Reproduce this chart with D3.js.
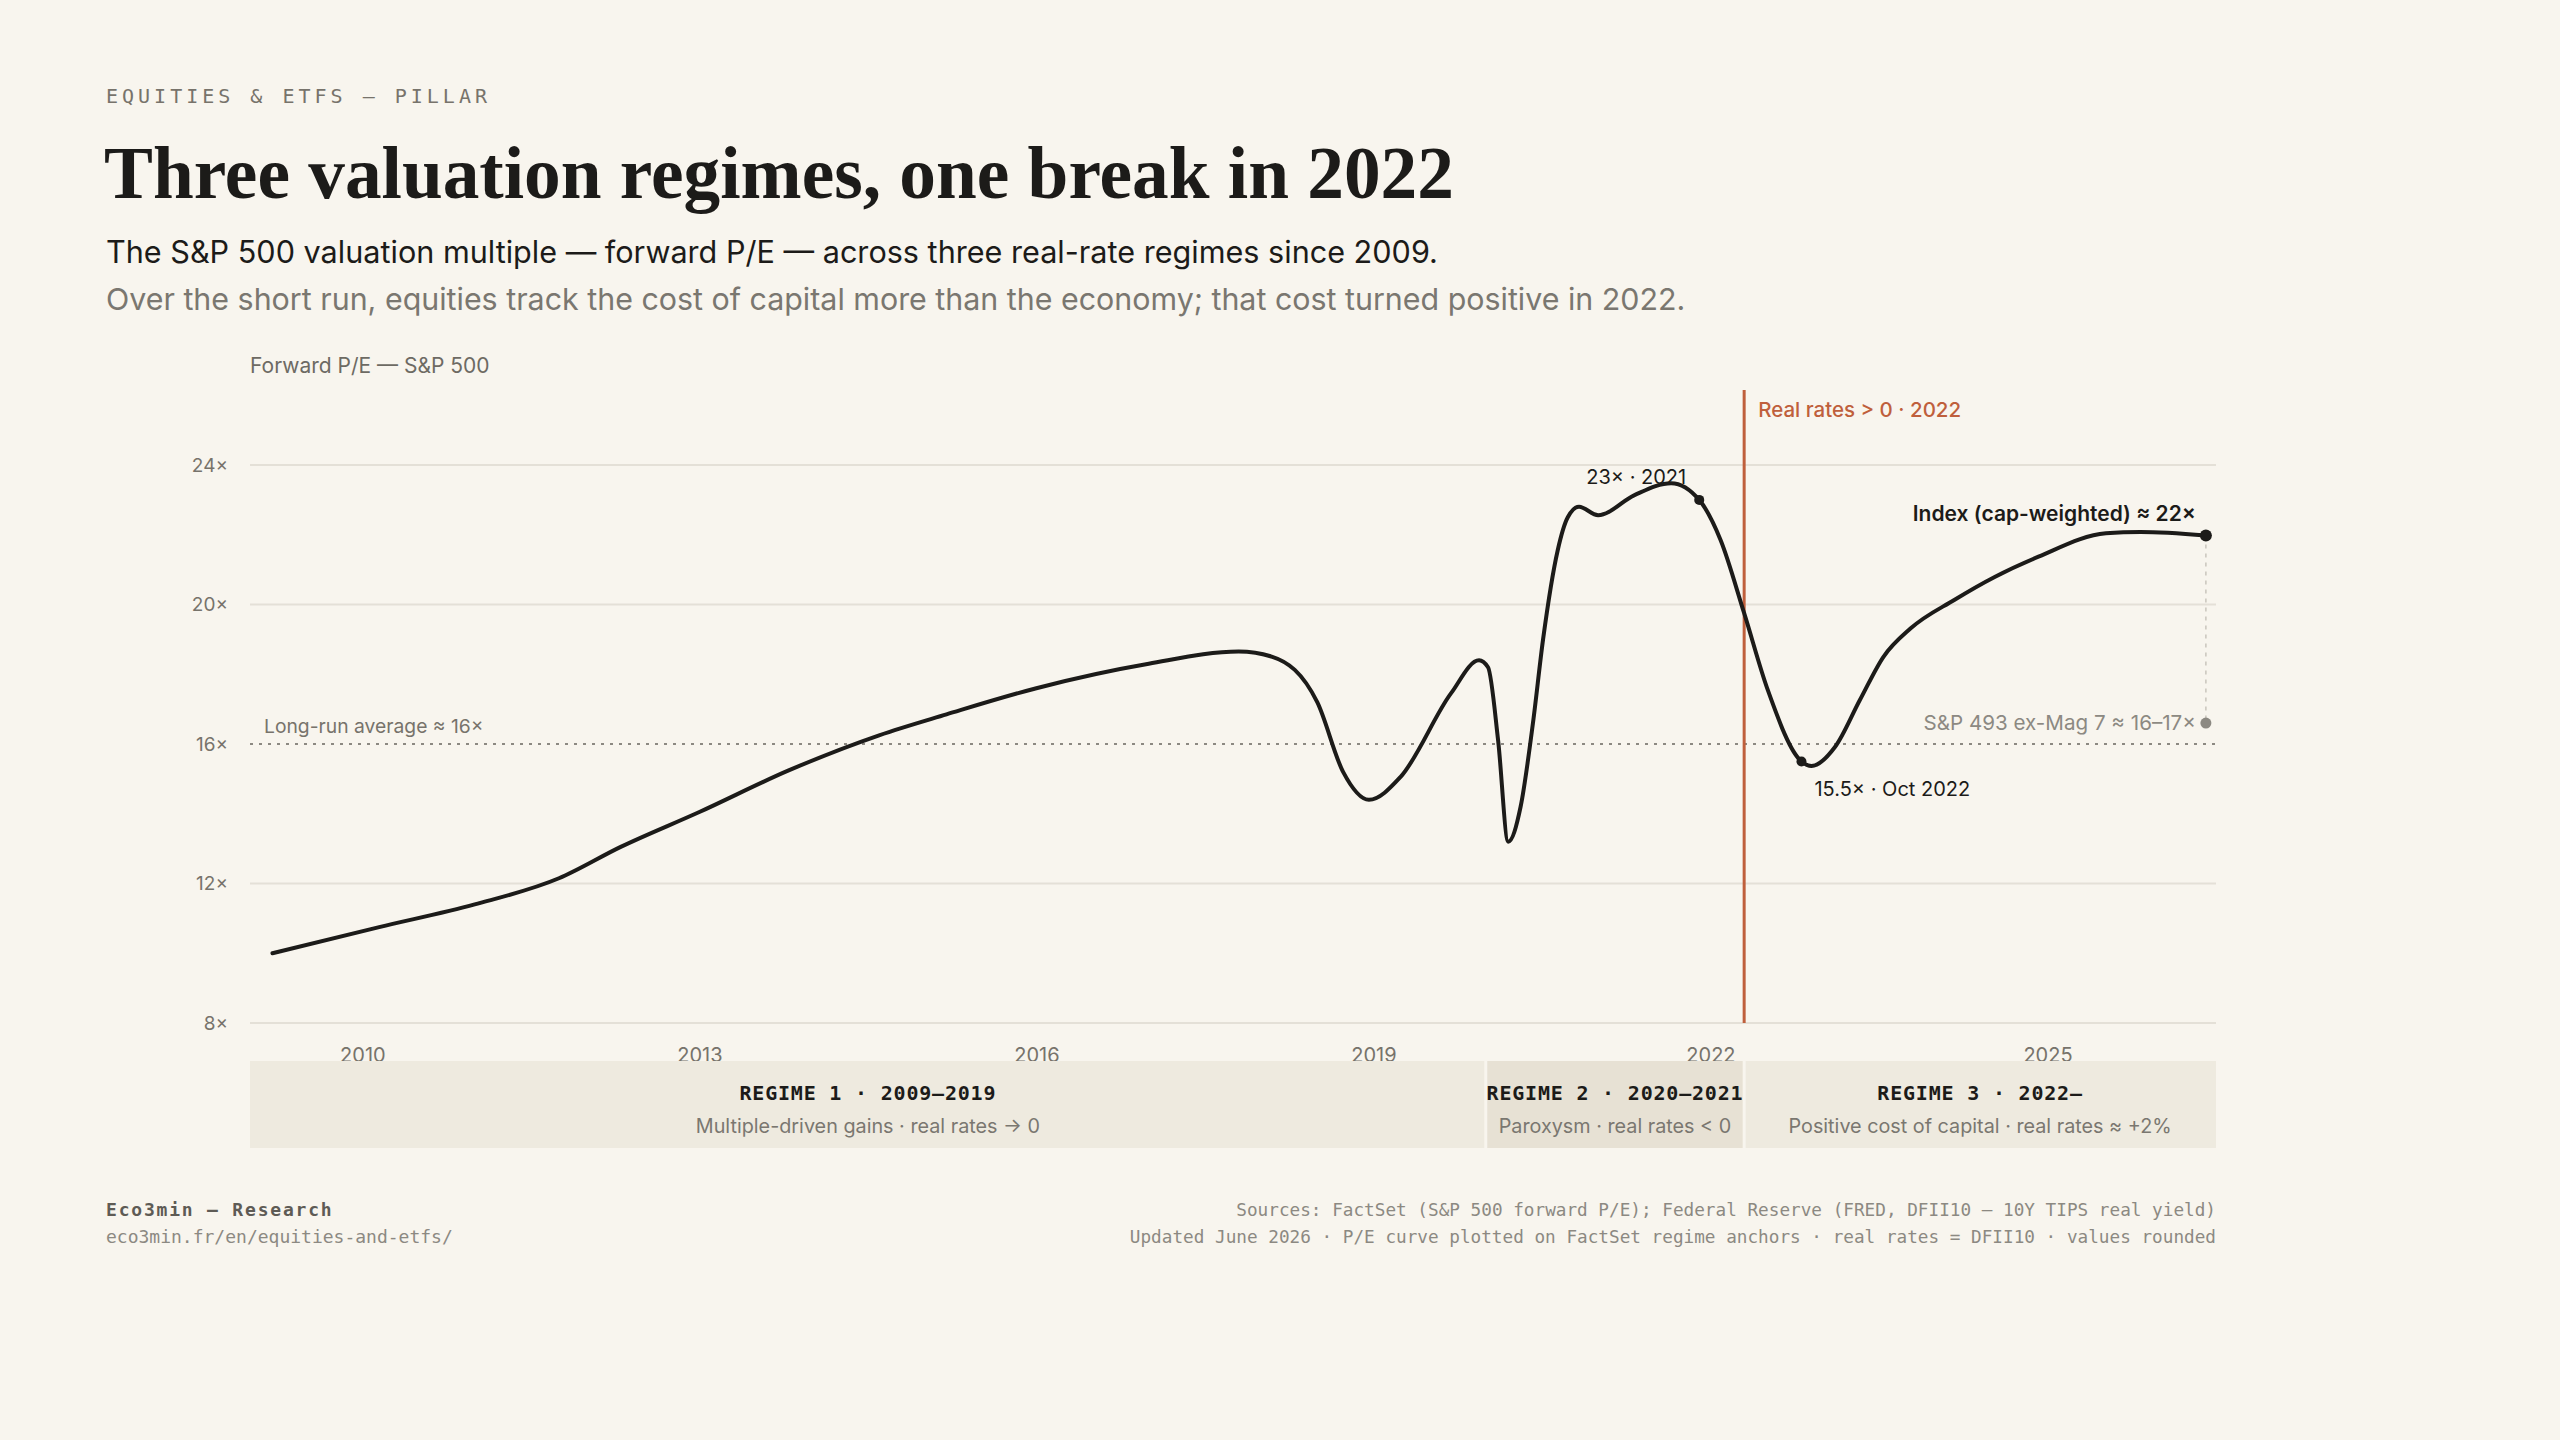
<!DOCTYPE html>
<html>
<head>
<meta charset="utf-8">
<script src="https://cdn.jsdelivr.net/npm/d3@7"></script>
<style>
  html, body { margin: 0; padding: 0; background: #f8f5ee; }
  svg { display: block; }
  .sans { font-family: Inter, "Noto Sans", sans-serif; }
  .mono { font-family: "DejaVu Sans Mono", "Liberation Mono", monospace; }
  .serif { font-family: "Liberation Serif", "DejaVu Serif", serif; }
</style>
</head>
<body>
<div id="chart"></div>
<script>
// forward P/E anchors
const years = [2009.2, 2010.15, 2011.0, 2011.75, 2012.3, 2013.0, 2013.8, 2014.6, 2015.2, 2016.0,
  2017.0, 2017.8, 2018.1, 2018.5, 2018.73, 2018.96, 2019.24, 2019.69, 2019.94, 2020.02,
  2020.11, 2020.2, 2020.31, 2020.42, 2020.51, 2020.64, 2020.73, 2020.83, 2021.0, 2021.32,
  2021.65, 2021.9, 2022.09, 2022.3, 2022.51, 2022.81, 2022.9, 2023.11, 2023.33, 2023.54,
  2023.78, 2024.17, 2024.53, 2024.92, 2025.52, 2025.83, 2026.41];
const peValues = [10.0, 10.75, 11.4, 12.15, 13.05, 14.05, 15.25, 16.25, 16.85, 17.6,
  18.3, 18.65, 18.5, 17.2, 15.2, 14.4, 15.05, 17.45, 18.4, 18.2,
  16.1, 13.2, 14.2, 16.6, 19.0, 21.55, 22.5, 22.8, 22.56, 23.13,
  23.48, 23.0, 21.85, 19.75, 17.55, 15.5, 15.37, 15.92, 17.26, 18.5,
  19.31, 20.13, 20.79, 21.37, 22.04, 22.08, 21.98];

const yTicks = [8, 12, 16, 20, 24];
const xTicks = [2010, 2013, 2016, 2019, 2022, 2025];
const longRunAvg = 16;
const breakYear = 2022.3;

const regimeNames = ["REGIME 1 · 2009–2019", "REGIME 2 · 2020–2021", "REGIME 3 · 2022–"];
const regimeNotes = ["Multiple-driven gains · real rates → 0", "Paroxysm · real rates < 0", "Positive cost of capital · real rates ≈ +2%"];
const regimeStart = [2009, 2020, 2022.3];
const regimeEnd = [2020, 2022.3, 2026.5];

// annotated points
const peakPoint = {year: 2021.9, pe: 23.0, label: "23× · 2021"};
const troughPoint = {year: 2022.81, pe: 15.5, label: "15.5× · Oct 2022"};
const lastIndex = {year: 2026.41, pe: 21.98, label: "Index (cap-weighted) ≈ 22×"};
const lastEx7 = {year: 2026.41, pe: 16.6, label: "S&P 493 ex-Mag 7 ≈ 16–17×"};

const W = 2560, H = 1440;
const plot = {left: 250, right: 2216, top: 465, bottom: 1023};

const svg = d3.select("#chart").append("svg")
  .attr("width", W)
  .attr("height", H);

svg.append("rect").attr("width", W).attr("height", H).attr("fill", "#f8f5ee");

// header
svg.append("text")
  .attr("class", "mono")
  .attr("x", 106).attr("y", 103)
  .attr("font-size", 20)
  .attr("letter-spacing", "0.2em")
  .attr("fill", "#77736b")
  .text("EQUITIES & ETFS — PILLAR");

svg.append("text")
  .attr("class", "serif")
  .attr("x", 104).attr("y", 198)
  .attr("font-size", 73.3)
  .attr("font-weight", "bold")
  .attr("fill", "#1c1b19")
  .text("Three valuation regimes, one break in 2022");

svg.append("text")
  .attr("class", "sans")
  .attr("x", 106).attr("y", 263)
  .attr("font-size", 30.6)
  .attr("fill", "#1c1b19")
  .text("The S&P 500 valuation multiple — forward P/E — across three real-rate regimes since 2009.");

svg.append("text")
  .attr("class", "sans")
  .attr("x", 106).attr("y", 310)
  .attr("font-size", 30.4)
  .attr("fill", "#7a7770")
  .text("Over the short run, equities track the cost of capital more than the economy; that cost turned positive in 2022.");

svg.append("text")
  .attr("class", "sans")
  .attr("x", 250).attr("y", 373)
  .attr("font-size", 21)
  .attr("fill", "#6d6a63")
  .text("Forward P/E — S&P 500");

// scales
const x = d3.scaleLinear().domain([2009, 2026.5]).range([plot.left, plot.right]);
const y = d3.scaleLinear().domain([8, 24]).range([plot.bottom, plot.top]);

// grid
svg.append("g")
  .selectAll("line")
  .data(yTicks.filter(d => d !== longRunAvg))
  .join("line")
  .attr("x1", plot.left).attr("x2", plot.right)
  .attr("y1", d => y(d)).attr("y2", d => y(d))
  .attr("stroke", "#e4e0d7")
  .attr("stroke-width", 2);

// y axis labels
const yAxis = svg.append("g")
  .attr("class", "sans")
  .attr("transform", `translate(${plot.left},0)`)
  .call(d3.axisLeft(y).tickValues(yTicks).tickFormat(d => `${d}×`).tickSize(0).tickPadding(22));
yAxis.select(".domain").remove();
yAxis.selectAll("text")
  .attr("font-size", 19)
  .attr("font-family", "Inter, 'Noto Sans', sans-serif")
  .attr("fill", "#77736b");

// x axis labels (partly tucked under the regime strip)
const xAxis = svg.append("g")
  .attr("transform", `translate(0,${plot.bottom})`)
  .call(d3.axisBottom(x).tickValues(xTicks).tickFormat(d3.format("d")).tickSize(0).tickPadding(25));
xAxis.select(".domain").remove();
xAxis.selectAll("text")
  .attr("font-size", 20)
  .attr("font-family", "Inter, 'Noto Sans', sans-serif")
  .attr("fill", "#77736b");

// long-run average
svg.append("line")
  .attr("x1", plot.left).attr("x2", plot.right)
  .attr("y1", y(longRunAvg)).attr("y2", y(longRunAvg))
  .attr("stroke", "#8c8982")
  .attr("stroke-width", 2)
  .attr("stroke-dasharray", "3,6");

svg.append("text")
  .attr("class", "sans")
  .attr("x", plot.left + 14).attr("y", y(longRunAvg) - 11)
  .attr("font-size", 19.3)
  .attr("fill", "#77736b")
  .text("Long-run average ≈ 16×");

// regime bands
const regimes = regimeNames.map((name, i) => ({
  name, note: regimeNotes[i], start: regimeStart[i], end: regimeEnd[i]
}));

const bandTop = 1061, bandBottom = 1148;
const bands = svg.append("g").selectAll("g")
  .data(regimes)
  .join("g");

bands.append("rect")
  .attr("x", (d, i) => x(d.start) + (i > 0 ? 1.5 : 0))
  .attr("y", bandTop)
  .attr("width", (d, i) => x(d.end) - x(d.start) - (i > 0 ? 1.5 : 0) - (i < regimes.length - 1 ? 1.5 : 0))
  .attr("height", bandBottom - bandTop)
  .attr("fill", (d, i) => i === 1 ? "#e7e1d4" : "#eeeadf");

bands.append("text")
  .attr("class", "mono")
  .attr("x", d => (x(d.start) + x(d.end)) / 2)
  .attr("y", 1100)
  .attr("text-anchor", "middle")
  .attr("font-size", 20)
  .attr("font-weight", 600)
  .attr("letter-spacing", "0.04em")
  .attr("fill", "#1c1b19")
  .text(d => d.name);

bands.append("text")
  .attr("class", "sans")
  .attr("x", d => (x(d.start) + x(d.end)) / 2)
  .attr("y", 1133)
  .attr("text-anchor", "middle")
  .attr("font-size", 19.8)
  .attr("fill", "#7a7770")
  .text(d => d.note);

// break line
svg.append("line")
  .attr("x1", x(breakYear)).attr("x2", x(breakYear))
  .attr("y1", 390).attr("y2", plot.bottom)
  .attr("stroke", "#bf5f3c")
  .attr("stroke-width", 3);

svg.append("text")
  .attr("class", "sans")
  .attr("x", x(breakYear) + 14).attr("y", 417)
  .attr("font-size", 20.5)
  .attr("font-weight", 500)
  .attr("fill", "#bf5f3c")
  .text("Real rates > 0 · 2022");

// P/E curve
const series = years.map((yr, i) => ({year: yr, pe: peValues[i]}));
const line = d3.line()
  .x(d => x(d.year))
  .y(d => y(d.pe))
  .curve(d3.curveMonotoneX);

svg.append("path")
  .datum(series)
  .attr("d", line)
  .attr("fill", "none")
  .attr("stroke", "#1c1b19")
  .attr("stroke-width", 4)
  .attr("stroke-linejoin", "round")
  .attr("stroke-linecap", "round");

// ex-Mag 7 connector
svg.append("line")
  .attr("x1", x(lastIndex.year)).attr("x2", x(lastEx7.year))
  .attr("y1", y(lastIndex.pe)).attr("y2", y(lastEx7.pe))
  .attr("stroke", "#c9c5bc")
  .attr("stroke-width", 1.5)
  .attr("stroke-dasharray", "4,5");

// markers
[peakPoint, troughPoint].forEach(p => {
  svg.append("circle")
    .attr("cx", x(p.year)).attr("cy", y(p.pe))
    .attr("r", 5)
    .attr("fill", "#1c1b19");
});

svg.append("circle")
  .attr("cx", x(lastIndex.year)).attr("cy", y(lastIndex.pe))
  .attr("r", 6)
  .attr("fill", "#1c1b19");

svg.append("circle")
  .attr("cx", x(lastEx7.year)).attr("cy", y(lastEx7.pe))
  .attr("r", 5.5)
  .attr("fill", "#8c8982");

svg.append("text")
  .attr("class", "sans")
  .attr("x", x(peakPoint.year) - 63).attr("y", y(peakPoint.pe) - 16)
  .attr("text-anchor", "middle")
  .attr("font-size", 20)
  .attr("fill", "#1c1b19")
  .text(peakPoint.label);

svg.append("text")
  .attr("class", "sans")
  .attr("x", x(troughPoint.year) + 13).attr("y", y(troughPoint.pe) + 35)
  .attr("font-size", 20)
  .attr("fill", "#1c1b19")
  .text(troughPoint.label);

svg.append("text")
  .attr("class", "sans")
  .attr("x", x(lastIndex.year) - 10).attr("y", y(lastIndex.pe) - 14)
  .attr("text-anchor", "end")
  .attr("font-size", 21)
  .attr("font-weight", 600)
  .attr("fill", "#1c1b19")
  .text(lastIndex.label);

svg.append("text")
  .attr("class", "sans")
  .attr("x", x(lastEx7.year) - 10).attr("y", y(lastEx7.pe) + 7)
  .attr("text-anchor", "end")
  .attr("font-size", 20.6)
  .attr("fill", "#8c8982")
  .text(lastEx7.label);

// footer
svg.append("text")
  .attr("class", "mono")
  .attr("x", 106).attr("y", 1216)
  .attr("font-size", 18)
  .attr("font-weight", "bold")
  .attr("letter-spacing", "0.1em")
  .attr("fill", "#5e5b55")
  .text("Eco3min — Research");

svg.append("text")
  .attr("class", "mono")
  .attr("x", 106).attr("y", 1243)
  .attr("font-size", 18)
  .attr("fill", "#8c8982")
  .text("eco3min.fr/en/equities-and-etfs/");

svg.append("text")
  .attr("class", "mono")
  .attr("x", plot.right).attr("y", 1216)
  .attr("text-anchor", "end")
  .attr("font-size", 17.7)
  .attr("fill", "#8c8982")
  .text("Sources: FactSet (S&P 500 forward P/E); Federal Reserve (FRED, DFII10 — 10Y TIPS real yield)");

svg.append("text")
  .attr("class", "mono")
  .attr("x", plot.right).attr("y", 1243)
  .attr("text-anchor", "end")
  .attr("font-size", 17.7)
  .attr("fill", "#8c8982")
  .text("Updated June 2026 · P/E curve plotted on FactSet regime anchors · real rates = DFII10 · values rounded");
</script>
</body>
</html>
